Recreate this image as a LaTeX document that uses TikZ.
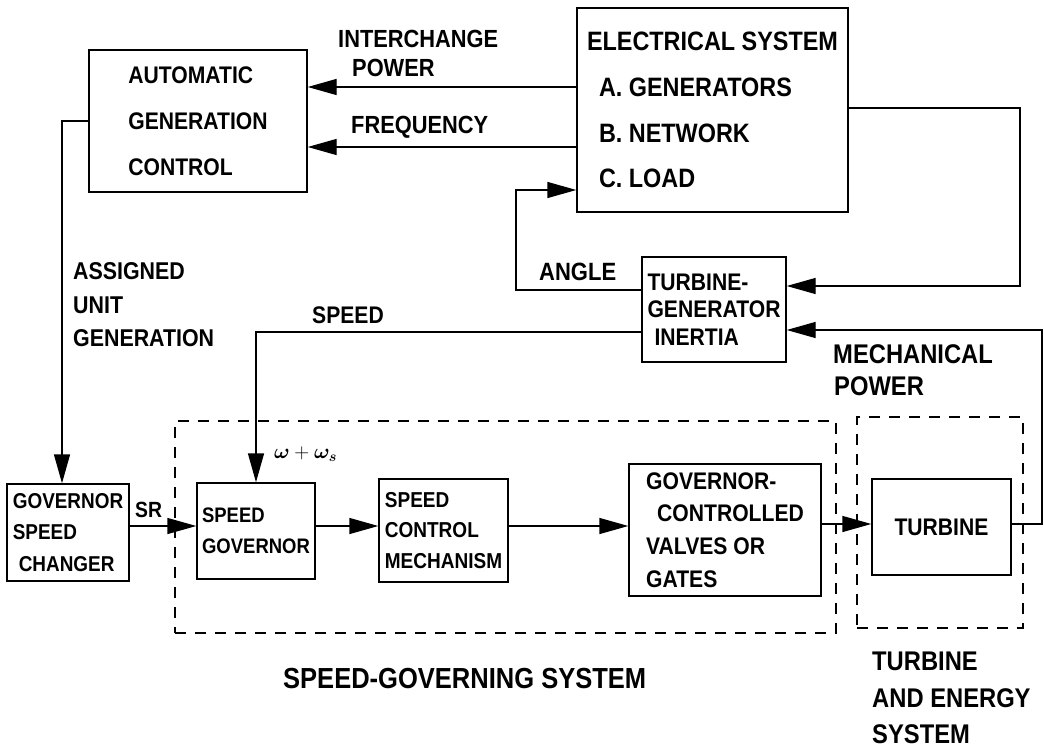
\documentclass[tikz,border=0pt]{standalone}
\usepackage{fontspec}
\usepackage{bm}
\setmainfont{Liberation Sans}[FakeStretch=0.88]
\usetikzlibrary{arrows.meta}
\newcommand\myfs[2]{\bfseries\fontsize{#1}{#2}\selectfont}
\begin{document}
\begin{tikzpicture}[x=1pt,y=-1pt,
  box/.style={draw, line width=1.4pt, align=left, inner sep=0pt},
  dbox/.style={draw, line width=1.3pt, dash pattern=on 11pt off 9pt, inner sep=0pt},
  conn/.style={line width=1.4pt},
  arr/.style={conn, -{Triangle[length=29pt,width=16pt]}},
  lbl/.style={anchor=base west, inner sep=0pt},
]
\fill[white] (0,0) rectangle (1044,749);
\path[use as bounding box] (0,0) rectangle (1044,749);

% boxes
\node[box, minimum width=218pt, minimum height=142pt, font=\myfs{24}{46}] (agc) at (198,121) {AUTOMATIC\\GENERATION\\CONTROL};
\node[box, minimum width=271pt, minimum height=204pt, font=\myfs{26.6}{45.7}] (es) at (712.5,110) {ELECTRICAL SYSTEM\\\hspace*{12pt}A. GENERATORS\\\hspace*{12pt}B. NETWORK\\\hspace*{12pt}C. LOAD};
\node[box, minimum width=144pt, minimum height=105pt, font=\myfs{24}{27.5}] (tgi) at (714,309.5) {TURBINE-\\GENERATOR\\\hspace*{7pt}INERTIA};
\node[box, minimum width=122pt, minimum height=97pt, font=\myfs{21.5}{31.5}] (gsc) at (68,532.5) {GOVERNOR\\SPEED\\\hspace*{6pt}CHANGER};
\node[box, minimum width=118pt, minimum height=96pt, font=\myfs{21}{31}] (sg) at (256,531) {SPEED\\GOVERNOR};
\node[box, minimum width=129pt, minimum height=103pt, font=\myfs{21.6}{30.5}] (scm) at (443.5,530.5) {SPEED\\CONTROL\\MECHANISM};
\node[box, minimum width=192pt, minimum height=132pt, font=\myfs{24}{32.7}] (gcv) at (725,530) {GOVERNOR-\\\hspace*{11pt}CONTROLLED\\VALVES OR\\GATES};
\node[box, minimum width=139pt, minimum height=96pt, font=\myfs{24}{28}] (tur) at (941.5,527) {TURBINE};

% dashed groups
\node[dbox, minimum width=661pt, minimum height=212pt] (sgs) at (505.5,527) {};
\node[dbox, minimum width=166pt, minimum height=211pt] (tes) at (940,522.5) {};

% helper coordinates
\coordinate (c1) at (0,87);
\coordinate (c2) at (0,147);
\coordinate (c3) at (516,290);
\coordinate (c4) at (516,190);
\coordinate (c5) at (1020,108);
\coordinate (c6) at (1020,286);
\coordinate (c7) at (1042,524);
\coordinate (c8) at (1042,330);
\coordinate (c9) at (256,332);
\coordinate (c10) at (62,121);
\coordinate (c11) at (0,526);
\coordinate (c12) at (0,524);

% connectors
\draw[arr] (es.west |- c1) -- (agc.east |- c1);
\draw[arr] (es.west |- c2) -- (agc.east |- c2);
\draw[arr] (tgi.west |- c3) -- (c3) -- (c4) -- (es.west |- c4);
\draw[arr] (es.east |- c5) -- (c5) -- (c6) -- (tgi.east |- c6);
\draw[arr] (tur.east |- c7) -- (c7) -- (c8) -- (tgi.east |- c8);
\draw[arr] (tgi.west |- c9) -- (c9) -- (c9 |- sg.north);
\draw[arr] (agc.west |- c10) -- (c10) -- (c10 |- gsc.north);
\draw[arr] (gsc.east |- c11) -- (sg.west |- c11);
\draw[arr] (sg.east |- c11) -- (scm.west |- c11);
\draw[arr] (scm.east |- c11) -- (gcv.west |- c11);
\draw[arr] (gcv.east |- c12) -- (tur.west |- c12);

% labels
\node[lbl, font=\myfs{24.8}{28}] (l1) at (338,48) {INTERCHANGE};
\node[lbl, font=\myfs{24.8}{28}] (l2) at (352,77) {POWER};
\node[lbl, font=\myfs{24.8}{28}] (l3) at (351,134) {FREQUENCY};
\node[lbl, font=\myfs{24.3}{28}] (l4) at (73,279) {ASSIGNED};
\node[lbl, font=\myfs{24.3}{28}] (l5) at (73,313) {UNIT};
\node[lbl, font=\myfs{24.3}{28}] (l6) at (73,346) {GENERATION};
\node[lbl, font=\myfs{24}{28}] (l7) at (312,323) {SPEED};
\node[lbl, font=\myfs{25}{28}] (l8) at (539,280) {ANGLE};
\node[lbl, font=\myfs{27}{30}] (l9) at (833,363) {MECHANICAL};
\node[lbl, font=\myfs{27}{30}] (l10) at (834,395) {POWER};
\node[lbl, font=\myfs{22}{26}] (l11) at (135,517) {SR};
\node[lbl, font=\fontsize{22}{26}\selectfont] (l12) at (274,458) {$\bm{\omega}\mathbin{\mathbf{+}}\bm{\omega}_{\bm{s}}$};
\node[lbl, font=\myfs{29}{32}] (l13) at (283,688) {SPEED-GOVERNING SYSTEM};
\node[lbl, font=\myfs{27}{30}] (l14) at (872,670) {TURBINE};
\node[lbl, font=\myfs{27}{30}] (l15) at (872,707) {AND ENERGY};
\node[lbl, font=\myfs{27}{30}] (l16) at (872,743) {SYSTEM};
\end{tikzpicture}
\end{document}
